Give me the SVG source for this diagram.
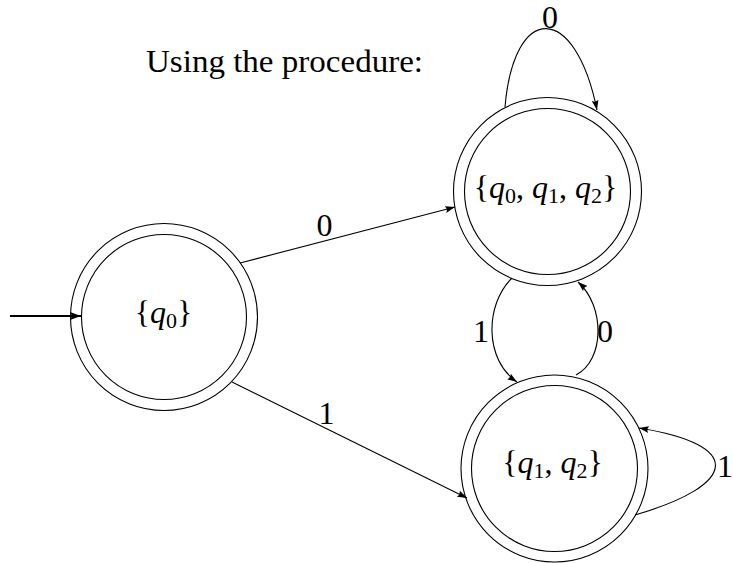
<svg xmlns="http://www.w3.org/2000/svg" width="733" height="563" viewBox="0 0 733 563">
<defs>
<style>
.ring{fill:none;stroke:#000;stroke-width:1.1}
.edge{fill:none;stroke:#000;stroke-width:1.1}
.t{font-family:'Liberation Serif','Times New Roman',Times,serif;font-size:32px;fill:#000}
.lbl{text-anchor:middle}
.q{font-style:italic}
.sub{font-size:22px}
</style>
<marker id="ah" markerUnits="userSpaceOnUse" viewBox="0 0 10 7" refX="10" refY="3.5" markerWidth="10" markerHeight="7" orient="auto">
<path d="M0,0 Q3,3.5 0,7 L10,3.5 Z" fill="#000"/>
</marker>
<marker id="ah2" markerUnits="userSpaceOnUse" viewBox="0 0 11 8" refX="11" refY="4" markerWidth="11" markerHeight="8" orient="auto">
<path d="M0,0 Q3,4 0,8 L11,4 Z" fill="#000"/>
</marker>
</defs>
<rect width="733" height="563" fill="#fff"/>
<text class="t" font-family="Liberation Serif, serif" x="146" y="72" textLength="277" lengthAdjust="spacingAndGlyphs">Using the procedure:</text>
<g id="connectors">
<line id="start" x1="10" y1="316" x2="81" y2="316" stroke="#000" stroke-width="2" marker-end="url(#ah2)"/>
<path id="e-q0-top" class="edge" d="M240,263 L455,207" marker-end="url(#ah)"/>
<path id="e-q0-bot" class="edge" d="M232,382 L467,498" marker-end="url(#ah)"/>
<path id="e-top-loop" class="edge" d="M505,107 C514,2 575,2 597,110" marker-end="url(#ah)"/>
<path id="e-top-bot" class="edge" d="M512,278 C484.5,305 484.5,360 517,382" marker-end="url(#ah)"/>
<path id="e-bot-top" class="edge" d="M576,375 C605,360 605,306 578,282" marker-end="url(#ah)"/>
<path id="e-bot-loop" class="edge" d="M635,515 C738,485 745,445 639,428" marker-end="url(#ah)"/>
<text class="t lbl" font-family="Liberation Serif, serif" x="324.5" y="236">0</text>
<text class="t lbl" font-family="Liberation Serif, serif" x="326.5" y="424">1</text>
<text class="t lbl" font-family="Liberation Serif, serif" x="550" y="28">0</text>
<text class="t lbl" font-family="Liberation Serif, serif" x="481" y="342">1</text>
<text class="t lbl" font-family="Liberation Serif, serif" x="605" y="342">0</text>
<text class="t" font-family="Liberation Serif, serif" text-anchor="end" x="733" y="477">1</text>
</g>
<g id="n-q0">
<circle class="ring" cx="164" cy="317" r="93.5"/>
<circle class="ring" cx="164" cy="317" r="82.5"/>
<text class="t lbl" font-family="Liberation Serif, serif" x="163.5" y="323">{<tspan class="q">q</tspan><tspan class="sub" dy="5">0</tspan><tspan dy="-5">}</tspan></text>
</g>
<g id="n-q012">
<circle class="ring" cx="547.5" cy="191.5" r="94"/>
<circle class="ring" cx="547.5" cy="191.5" r="83"/>
<text class="t lbl" font-family="Liberation Serif, serif" x="545.5" y="198">{<tspan class="q">q</tspan><tspan class="sub" dy="5">0</tspan><tspan dy="-5">, </tspan><tspan class="q">q</tspan><tspan class="sub" dy="5">1</tspan><tspan dy="-5">, </tspan><tspan class="q">q</tspan><tspan class="sub" dy="5">2</tspan><tspan dy="-5">}</tspan></text>
</g>
<g id="n-q12">
<circle class="ring" cx="554.5" cy="468.5" r="93.5"/>
<circle class="ring" cx="554.5" cy="468.5" r="83"/>
<text class="t lbl" font-family="Liberation Serif, serif" x="552.5" y="473">{<tspan class="q">q</tspan><tspan class="sub" dy="5">1</tspan><tspan dy="-5">, </tspan><tspan class="q">q</tspan><tspan class="sub" dy="5">2</tspan><tspan dy="-5">}</tspan></text>
</g>
</svg>
